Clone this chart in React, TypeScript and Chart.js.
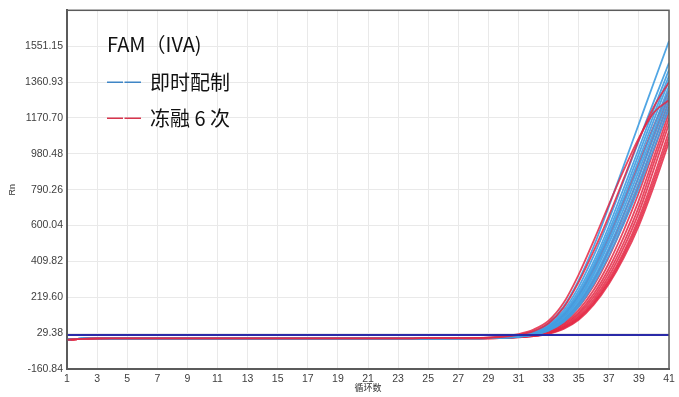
import React, { useEffect, useRef } from "react";
import { Chart, registerables } from "chart.js";

Chart.register(...registerables);

// ---- data ----
const cycles = [1, 2, 3, 4, 5, 6, 7, 8, 9, 10, 11, 12, 13, 14, 15, 16, 17, 18, 19, 20, 21, 22, 23, 24, 25, 26, 27, 28, 29, 30, 31, 32, 33, 34, 35, 36, 37, 38, 39, 40, 41];
const xTicks = [1, 3, 5, 7, 9, 11, 13, 15, 17, 19, 21, 23, 25, 27, 29, 31, 33, 35, 37, 39, 41];
const yTickValues = [-160.84, 29.38, 219.6, 409.82, 600.04, 790.26, 980.48, 1170.7, 1360.93, 1551.15];
const yTickLabels = ["-160.84", "29.38", "219.60", "409.82", "600.04", "790.26", "980.48", "1170.70", "1360.93", "1551.15"];
const yMin = -160.84;
const yMax = 1741.37;
const threshold = 20;

const legendTitle = "FAM（IVA)";
const seriesNames = ["即时配制", "冻融 6 次"];
const xTitle = "循环数";
const yTitle = "Rn";

// 即时配制 (blue) runs, cycles 1..41
const blueRuns = [
  [-3, 0, 1, 2, 2, 2, 2, 2, 2, 2, 2, 2, 2, 2, 2, 2, 2, 2, 2, 2, 2, 2, 2, 2, 3, 3, 3, 3, 5, 9, 18, 38, 82, 170, 310, 490, 700, 920, 1140, 1360, 1578],
  [-3, 0, 1, 2, 2, 2, 2, 2, 2, 2, 2, 2, 2, 2, 2, 2, 2, 2, 2, 2, 2, 2, 2, 2, 2, 3, 3, 3, 4, 8, 16, 34, 72, 150, 275, 440, 630, 840, 1050, 1260, 1463],
  [-4, 0, 1, 2, 2, 2, 2, 2, 2, 2, 2, 2, 2, 2, 2, 2, 2, 2, 2, 2, 2, 2, 2, 2, 2, 2, 3, 3, 4, 8, 15, 31, 66, 138, 255, 410, 595, 800, 1010, 1220, 1426],
  [-3, 0, 1, 1, 2, 2, 2, 2, 2, 2, 2, 2, 2, 2, 2, 2, 2, 2, 2, 2, 2, 2, 2, 2, 2, 2, 3, 3, 4, 7, 14, 29, 62, 130, 240, 390, 570, 770, 980, 1190, 1394],
  [-4, 0, 1, 2, 2, 2, 2, 2, 2, 2, 2, 2, 2, 2, 2, 2, 2, 2, 2, 2, 2, 2, 2, 2, 2, 2, 2, 3, 4, 7, 13, 27, 58, 122, 228, 375, 550, 745, 950, 1160, 1370],
  [-3, 0, 1, 2, 2, 2, 2, 2, 2, 2, 2, 2, 2, 2, 2, 2, 2, 2, 2, 2, 2, 2, 2, 2, 2, 2, 2, 3, 3, 6, 12, 25, 54, 114, 215, 355, 525, 715, 915, 1125, 1340],
  [-3, 0, 1, 1, 2, 2, 2, 2, 2, 2, 2, 2, 2, 2, 2, 2, 2, 2, 2, 2, 2, 2, 2, 2, 2, 2, 2, 3, 3, 6, 12, 24, 51, 108, 204, 340, 505, 690, 890, 1100, 1310],
  [-4, 0, 1, 2, 2, 2, 2, 2, 2, 2, 2, 2, 2, 2, 2, 2, 2, 2, 2, 2, 2, 2, 2, 2, 2, 2, 2, 2, 3, 6, 11, 22, 48, 100, 192, 322, 482, 662, 860, 1070, 1280],
  [-3, 0, 1, 2, 2, 2, 2, 2, 2, 2, 2, 2, 2, 2, 2, 2, 2, 2, 2, 2, 2, 2, 2, 2, 2, 2, 2, 2, 3, 5, 10, 21, 45, 94, 180, 305, 460, 635, 830, 1040, 1250],
  [-3, 0, 1, 1, 2, 2, 2, 2, 2, 2, 2, 2, 2, 2, 2, 2, 2, 2, 2, 2, 2, 2, 2, 2, 2, 2, 2, 2, 3, 5, 10, 20, 42, 88, 170, 290, 440, 610, 800, 1010, 1220],
];

// 冻融 6 次 (red) runs, cycles 1..41
const redRuns = [
  [-5, -1, 1, 2, 2, 2, 2, 2, 2, 2, 2, 2, 2, 2, 2, 2, 2, 2, 2, 2, 2, 2, 2, 2, 3, 3, 3, 4, 6, 12, 24, 48, 95, 190, 340, 520, 710, 895, 1065, 1200, 1265],
  [-5, -1, 1, 2, 2, 2, 2, 2, 2, 2, 2, 2, 2, 2, 2, 2, 2, 2, 2, 2, 2, 2, 2, 2, 3, 3, 3, 3, 5, 10, 20, 40, 82, 165, 300, 465, 650, 850, 1055, 1230, 1360],
  [-6, -1, 1, 2, 2, 2, 2, 2, 2, 2, 2, 2, 2, 2, 2, 2, 2, 2, 2, 2, 2, 2, 2, 2, 2, 3, 3, 3, 4, 8, 15, 30, 62, 125, 230, 370, 540, 730, 930, 1130, 1316],
  [-5, -1, 1, 1, 2, 2, 2, 2, 2, 2, 2, 2, 2, 2, 2, 2, 2, 2, 2, 2, 2, 2, 2, 2, 2, 2, 3, 3, 3, 6, 12, 24, 50, 100, 185, 310, 470, 660, 860, 1080, 1290],
  [-6, -1, 1, 2, 2, 2, 2, 2, 2, 2, 2, 2, 2, 2, 2, 2, 2, 2, 2, 2, 2, 2, 2, 2, 2, 2, 2, 3, 3, 6, 11, 22, 45, 90, 168, 282, 432, 615, 815, 1040, 1260],
  [-5, -1, 1, 2, 2, 2, 2, 2, 2, 2, 2, 2, 2, 2, 2, 2, 2, 2, 2, 2, 2, 2, 2, 2, 2, 2, 2, 3, 3, 6, 10, 20, 41, 82, 152, 258, 400, 575, 775, 1000, 1230],
  [-6, -1, 1, 1, 2, 2, 2, 2, 2, 2, 2, 2, 2, 2, 2, 2, 2, 2, 2, 2, 2, 2, 2, 2, 2, 2, 2, 2, 3, 5, 10, 18, 38, 76, 140, 238, 372, 540, 735, 965, 1200],
  [-5, -1, 1, 2, 2, 2, 2, 2, 2, 2, 2, 2, 2, 2, 2, 2, 2, 2, 2, 2, 2, 2, 2, 2, 2, 2, 2, 2, 3, 5, 9, 17, 35, 70, 130, 222, 350, 510, 700, 935, 1170],
  [-5, -1, 1, 2, 2, 2, 2, 2, 2, 2, 2, 2, 2, 2, 2, 2, 2, 2, 2, 2, 2, 2, 2, 2, 2, 2, 2, 2, 3, 5, 9, 16, 32, 64, 120, 208, 330, 485, 670, 900, 1140],
  [-6, -1, 1, 1, 2, 2, 2, 2, 2, 2, 2, 2, 2, 2, 2, 2, 2, 2, 2, 2, 2, 2, 2, 2, 2, 2, 2, 2, 2, 4, 8, 15, 30, 60, 112, 196, 312, 460, 640, 860, 1100],
  [-5, -1, 1, 2, 2, 2, 2, 2, 2, 2, 2, 2, 2, 2, 2, 2, 2, 2, 2, 2, 2, 2, 2, 2, 2, 2, 2, 2, 2, 4, 8, 14, 28, 56, 106, 188, 300, 445, 620, 835, 1070],
  [-6, -1, 1, 2, 2, 2, 2, 2, 2, 2, 2, 2, 2, 2, 2, 2, 2, 2, 2, 2, 2, 2, 2, 2, 2, 2, 2, 2, 2, 4, 7, 13, 26, 52, 100, 180, 290, 430, 600, 810, 1043],
];

const BLUE = "rgba(66,158,226,0.92)";
const RED = "rgba(228,40,68,0.85)";
const THRESH = "#2a2aa8";

const overlayPlugin = {
  id: "overlay",
  afterDatasetsDraw(chart: any) {
    const { ctx, chartArea: a } = chart;
    ctx.save();
    // frame
    ctx.strokeStyle = "#5c5c5c";
    ctx.lineWidth = 1.5;
    ctx.strokeRect(a.left, a.top, a.right - a.left, a.bottom - a.top);
    // legend
    const lx = a.left + 40;
    ctx.fillStyle = "#111";
    ctx.textBaseline = "middle";
    ctx.textAlign = "left";
    ctx.font = '20px "Noto Sans CJK SC", "Noto Sans", sans-serif';
    ctx.fillText(legendTitle, lx, a.top + 34);
    const rows = [
      { name: seriesNames[0], color: "#3f86c6", y: a.top + 72 },
      { name: seriesNames[1], color: "#d8344c", y: a.top + 108 },
    ];
    rows.forEach((r) => {
      ctx.strokeStyle = r.color;
      ctx.lineWidth = 1.6;
      ctx.beginPath();
      ctx.moveTo(lx, r.y);
      ctx.lineTo(lx + 16, r.y);
      ctx.moveTo(lx + 17.5, r.y);
      ctx.lineTo(lx + 34, r.y);
      ctx.stroke();
      ctx.fillStyle = "#111";
      ctx.fillText(r.name, lx + 43, r.y);
    });
    ctx.restore();
  },
};

function runDataset(values: number[], name: string, color: string) {
  return {
    label: name,
    data: values.map((v, k) => ({ x: cycles[k], y: v })),
    borderColor: color,
    borderWidth: 1.8,
    pointRadius: 0,
    cubicInterpolationMode: "monotone",
  };
}

export default function App() {
  const ref = useRef<HTMLCanvasElement | null>(null);

  useEffect(() => {
    document.body.style.margin = "0";
    const canvas = ref.current;
    if (!canvas) return;

    // earlier index = drawn on top
    const datasets: any[] = [];
    datasets.push({
      label: "threshold",
      data: [
        { x: cycles[0], y: threshold },
        { x: cycles[cycles.length - 1], y: threshold },
      ],
      borderColor: THRESH,
      borderWidth: 2,
      pointRadius: 0,
    });
    datasets.push(runDataset(redRuns[0], seriesNames[1], RED));
    datasets.push(runDataset(redRuns[1], seriesNames[1], RED));
    blueRuns.forEach((r) => datasets.push(runDataset(r, seriesNames[0], BLUE)));
    redRuns.slice(2).forEach((r) => datasets.push(runDataset(r, seriesNames[1], RED)));

    const chart = new Chart(canvas, {
      type: "line",
      data: { datasets },
      plugins: [overlayPlugin],
      options: {
        animation: false,
        responsive: false,
        layout: { padding: { top: 7, right: 10, left: 0, bottom: 0 } },
        plugins: { legend: { display: false }, tooltip: { enabled: false } },
        scales: {
          x: {
            type: "linear",
            min: cycles[0],
            max: cycles[cycles.length - 1],
            afterBuildTicks: (s: any) => {
              s.ticks = xTicks.map((v) => ({ value: v }));
            },
            afterFit: (s: any) => {
              s.height = 28;
            },
            grid: { color: "#e9e9e9", drawTicks: false },
            border: { color: "#5a5a5a", width: 2 },
            ticks: {
              padding: 4,
              color: "#404040",
              autoSkip: false,
              maxRotation: 0,
              font: { family: '"Liberation Sans", Arial, sans-serif', size: 10.5 },
              callback: (v: any) => String(v),
            },
            title: {
              display: true,
              text: xTitle,
              color: "#333",
              font: { family: '"Noto Sans CJK SC", sans-serif', size: 9 },
              padding: { top: 0, bottom: 4 },
            },
          },
          y: {
            type: "linear",
            min: yMin,
            max: yMax,
            afterBuildTicks: (s: any) => {
              s.ticks = yTickValues.map((v) => ({ value: v }));
            },
            afterFit: (s: any) => {
              s.width = 67;
            },
            grid: { color: "#e9e9e9", drawTicks: false },
            border: { color: "#5a5a5a", width: 2 },
            ticks: {
              padding: 4,
              color: "#404040",
              autoSkip: false,
              font: { family: '"Liberation Sans", Arial, sans-serif', size: 10.5 },
              callback: (_v: any, i: number) => yTickLabels[i],
            },
            title: {
              display: true,
              text: yTitle,
              color: "#333",
              font: { family: '"Liberation Sans", Arial, sans-serif', size: 9 },
              padding: { top: 7, bottom: 0 },
            },
          },
        },
      },
    } as any);

    return () => chart.destroy();
  }, []);

  return <canvas ref={ref} width={679} height={397} style={{ display: "block" }} />;
}
